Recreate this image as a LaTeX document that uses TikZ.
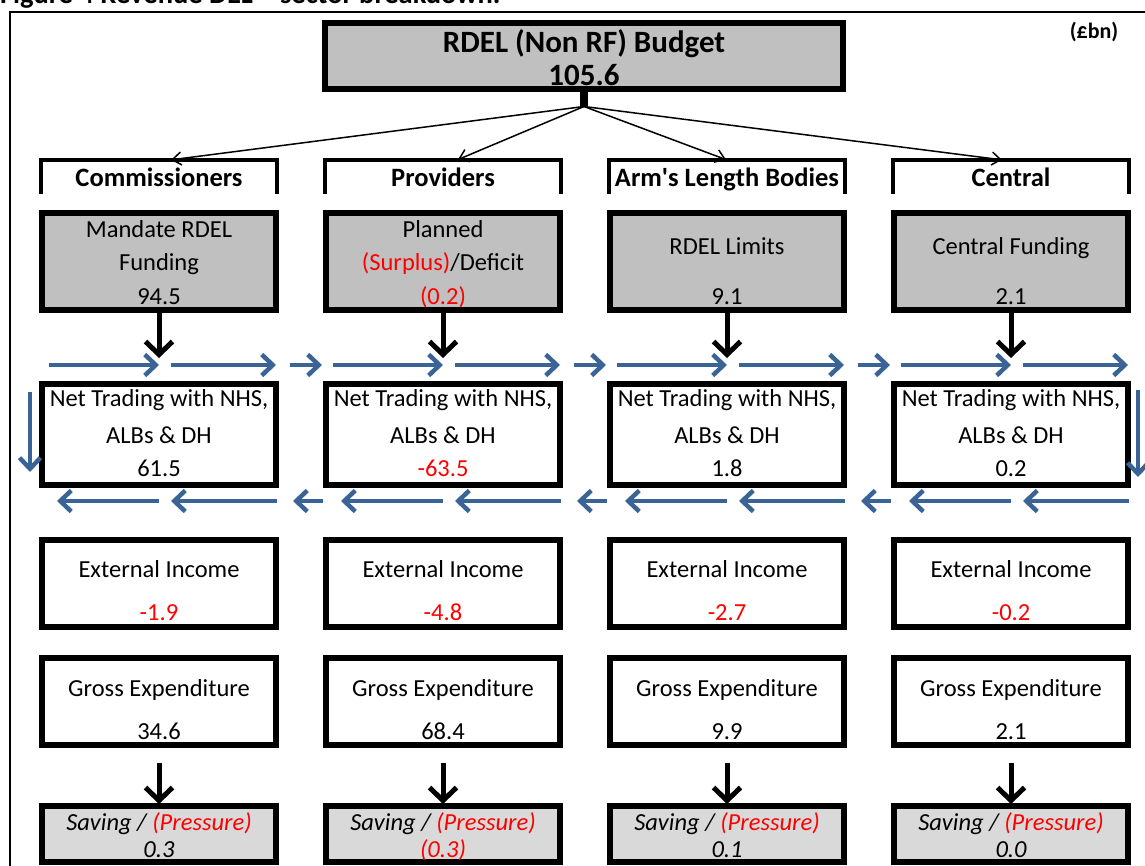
\documentclass[tikz,border=0pt]{standalone}
\usepackage{fontspec}
\setmainfont{Carlito}
\usetikzlibrary{arrows.meta}
\definecolor{flowblue}{RGB}{59,100,150}
\definecolor{boxgray}{RGB}{192,192,192}
\definecolor{savegray}{RGB}{217,217,217}
\definecolor{negred}{RGB}{255,0,0}
\begin{document}
\begin{tikzpicture}[x=1pt,y=-1pt,
  every node/.style={inner sep=0pt, outer sep=0pt},
  panel/.style={draw=black, line width=6pt, minimum width=234pt},
  fundbox/.style={panel, fill=boxgray, minimum height=97pt},
  tradebox/.style={panel, fill=white, minimum height=101pt},
  incbox/.style={panel, fill=white, minimum height=87pt},
  savebox/.style={panel, fill=savegray, minimum height=56pt},
  hdrbox/.style={minimum width=236pt, minimum height=34pt},
  bracket/.style={draw=black, line width=4pt},
  txt/.style={anchor=base, font=\fontsize{24.5}{29}\selectfont},
  hdr/.style={anchor=base, font=\fontsize{26.5}{31}\selectfont\bfseries},
  ttl/.style={anchor=base, font=\fontsize{31}{36}\selectfont\bfseries},
  itx/.style={anchor=base, font=\fontsize{24.5}{29}\selectfont\itshape},
  neg/.style={text=negred},
  blackarr/.style={draw=black, line width=5pt, -{Straight Barb[length=13pt,width=27pt]}},
  flow/.style={draw=flowblue, line width=4.5pt, -{Straight Barb[length=11pt,width=21pt]}},
  conn/.style={draw=black, line width=1.5pt, -{Straight Barb[length=9pt,width=13pt]}}
]
\useasboundingbox (0,0) rectangle (1145,866);
\clip (0,0) rectangle (1145,866);

% caption (cut at top) and frame
\node[anchor=base west, font=\fontsize{28.5}{33}\selectfont\bfseries] (fig) at (0,4) {Figure 4 Revenue DEL -- sector breakdown.};
\draw[line width=2pt] (10,900) -- (10,12) -- (1170,12);

% title
\node[draw=black, line width=6pt, fill=boxgray, minimum width=518pt, minimum height=66pt] (title) at (584,56) {};
\node[ttl] (title1) at (584,53) {RDEL (Non RF) Budget};
\node[ttl] (title2) at (584,86) {105.6};
\node[fill=black, minimum width=8pt, minimum height=15pt] (sq) at (584,99) {};
\node[anchor=base, font=\fontsize{22}{26}\selectfont\bfseries] (unit) at (1094,39) {(£bn)};

% columns
\foreach \i/\x in {1/159,2/443,3/727,4/1011}{
  \node[hdrbox] (h\i) at (\x,177) {};
  \draw[bracket] (h\i.south west) |- (h\i.north) -| (h\i.south east);
  \node[fundbox] (f\i) at (\x,261.5) {};
  \node[tradebox] (n\i) at (\x,434.5) {};
  \node[incbox] (e\i) at (\x,583.5) {};
  \node[incbox] (g\i) at (\x,701.5) {};
  \node[savebox] (s\i) at (\x,834) {};
  \coordinate (d\i) at (\x,358);
  \coordinate (u\i) at (\x,763);
  \draw[blackarr] (f\i.south) -- (d\i);
  \draw[blackarr, shorten >=2pt] (u\i) -- (s\i.north);
}

% connectors from the title
\draw[conn, shorten >=1pt] (sq.south) -- ([xshift=11pt]h1.north);
\draw[conn, shorten >=1pt] (sq.south) -- ([xshift=14pt]h2.north);
\draw[conn, shorten >=1pt] (sq.south) -- ([xshift=0pt]h3.north);
\draw[conn, shorten >=1pt] (sq.south) -- ([xshift=-8pt]h4.north);

% blue flow arrows
\foreach \x in {159,443,727,1011}{
  \draw[flow] (\x-110,365) -- (\x,365);
  \draw[flow] (\x+12,365) -- (\x+117,365);
  \draw[flow] (\x,501) -- (\x-102,501);
  \draw[flow] (\x+118,501) -- (\x+12,501);
}
\foreach \x in {159,443,727}{
  \draw[flow] (\x+131,365) -- (\x+163,365);
  \draw[flow] (\x+164,501) -- (\x+134,501);
}
\draw[flow] (30,392) -- (30,472);
\draw[flow] (1138,390) -- (1138,477);

% headers
\node[hdr] (h1t) at (159,187) {Commissioners};
\node[hdr] (h2t) at (443,187) {Providers};
\node[hdr] (h3t) at (727,187) {Arm\textquotesingle s Length Bodies};
\node[hdr] (h4t) at (1011,187) {Central};

% row 1
\node[txt] (f1a) at (159,238) {Mandate RDEL};
\node[txt] (f1b) at (159,271) {Funding};
\node[txt] (f1c) at (159,305) {94.5};
\node[txt] (f2a) at (443,238) {Planned};
\node[txt] (f2b) at (443,271) {\textcolor{negred}{(Surplus)}/Deficit};
\node[txt, neg] (f2c) at (443,305) {(0.2)};
\node[txt] (f3a) at (727,255) {RDEL Limits};
\node[txt] (f3c) at (727,305) {9.1};
\node[txt] (f4a) at (1011,255) {Central Funding};
\node[txt] (f4c) at (1011,305) {2.1};

% row 2 to 5 labels
\foreach \i/\x in {1/159,2/443,3/727,4/1011}{
  \node[txt] (n\i a) at (\x,406) {Net Trading with NHS,};
  \node[txt] (n\i b) at (\x,443) {ALBs \& DH};
  \node[txt] (e\i a) at (\x,577) {External Income};
  \node[txt] (g\i a) at (\x,696) {Gross Expenditure};
  \node[itx] (s\i a) at (\x,830) {Saving / \textcolor{negred}{(Pressure)}};
}
\node[txt] (n1c) at (159,476) {61.5};
\node[txt, neg] (n2c) at (443,476) {-63.5};
\node[txt] (n3c) at (727,476) {1.8};
\node[txt] (n4c) at (1011,476) {0.2};

\node[txt, neg] (e1c) at (159,620) {-1.9};
\node[txt, neg] (e2c) at (443,620) {-4.8};
\node[txt, neg] (e3c) at (727,620) {-2.7};
\node[txt, neg] (e4c) at (1011,620) {-0.2};

\node[txt] (g1c) at (159,739) {34.6};
\node[txt] (g2c) at (443,739) {68.4};
\node[txt] (g3c) at (727,739) {9.9};
\node[txt] (g4c) at (1011,739) {2.1};

\node[itx] (s1c) at (159,857) {0.3};
\node[itx, neg] (s2c) at (443,857) {(0.3)};
\node[itx] (s3c) at (727,857) {0.1};
\node[itx] (s4c) at (1011,857) {0.0};
\end{tikzpicture}
\end{document}
